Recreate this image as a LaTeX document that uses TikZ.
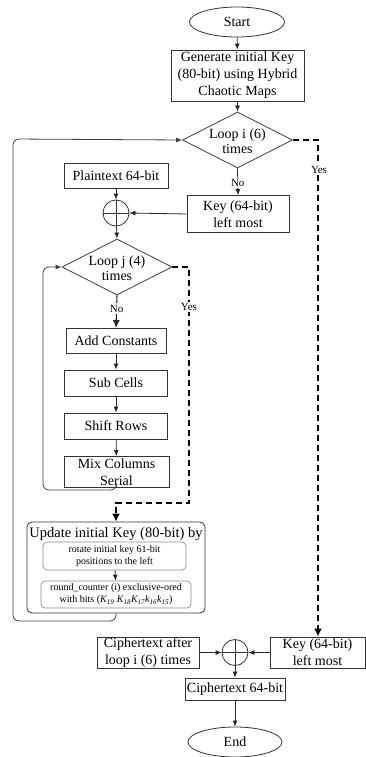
\documentclass[tikz,border=0pt]{standalone}
\usepackage{fontspec}
\setmainfont{Liberation Serif}
\usetikzlibrary{shapes.geometric,arrows.meta}
\begin{document}
\begin{tikzpicture}[x=1pt,y=-1pt,
  box/.style={draw=black!80, line width=0.8pt, inner sep=0pt, align=center, font=\fontsize{14}{17}\selectfont},
  term/.style={ellipse, draw=black!80, line width=0.8pt, inner sep=0pt, minimum width=95pt, minimum height=30pt, font=\fontsize{14}{17}\selectfont},
  dia/.style={diamond, draw=black!75, line width=0.8pt, inner sep=0pt, minimum width=110pt, minimum height=56pt},
  diatext/.style={align=center, font=\fontsize{14}{15}\selectfont, inner sep=0pt},
  sub/.style={draw=black!45, line width=0.7pt, rounded corners=4pt, inner sep=0pt, align=center, font=\fontsize{10}{12}\selectfont},
  xor/.style={circle, draw=black!80, line width=0.8pt, minimum size=26pt, inner sep=0pt,
    path picture={\draw[line width=0.8pt] (path picture bounding box.north) -- (path picture bounding box.south)
      (path picture bounding box.west) -- (path picture bounding box.east);}},
  arr/.style={-{Latex[length=6pt,width=5pt]}, line width=0.8pt, draw=black!85},
  loopline/.style={-{Latex[length=6pt,width=5pt]}, line width=0.8pt, draw=black!75, rounded corners=6pt},
  yesarr/.style={-{Latex[length=8pt,width=8pt]}, line width=1.7pt, dash pattern=on 6pt off 4pt},
  lbl/.style={font=\fontsize{11}{13}\selectfont, fill=white, inner sep=1.5pt}
]
\useasboundingbox (0,0) rectangle (366,757);

% top part
\node[term] (start) at (237,22) {Start};
\node[box, minimum width=133pt, minimum height=51pt] (gen) at (237.5,75.5) {Generate initial Key\\(80-bit) using Hybrid\\Chaotic Maps};
\node[dia] (di) at (237.5,140) {};
\node[diatext] (dit) at (237.5,141) {Loop i (6)\\times};

\node[box, minimum width=104pt, minimum height=25pt] (plain) at (116,176) {Plaintext 64-bit};
\node[xor] (x1) at (116,213) {};
\node[box, minimum width=102pt, minimum height=37pt] (key1) at (238,214) {Key (64-bit)\\left most};

\node[dia] (dj) at (117,267) {};
\node[diatext] (djt) at (117,268) {Loop j (4)\\times};

\node[box, minimum width=100pt, minimum height=25pt] (add) at (116,341) {Add Constants};
\node[box, minimum width=103pt, minimum height=26pt] (subc) at (116,383) {Sub Cells};
\node[box, minimum width=103pt, minimum height=26pt] (shift) at (116,426) {Shift Rows};
\node[box, minimum width=105pt, minimum height=31pt] (mix) at (116.5,472) {Mix Columns\\Serial};

% update box
\node[draw=black!80, line width=0.8pt, rounded corners=5pt, minimum width=178pt, minimum height=91pt, inner sep=0pt] (upd) at (116,567.5) {};
\node[inner sep=0pt, font=\fontsize{14.5}{17}\selectfont] (updt) at (116,534) {Update initial Key (80-bit) by};
\node[sub, minimum width=143pt, minimum height=28pt] (rot) at (114.5,556) {rotate initial key 61-bit\\positions to the left};
\node[sub, minimum width=150pt, minimum height=27pt] (rc) at (116,594.5) {round\_counter (i) exclusive-ored\\with bits (\textit{K\textsubscript{19} K\textsubscript{18}K\textsubscript{17}k\textsubscript{16}k\textsubscript{15}})};

% bottom part
\node[box, minimum width=102pt, minimum height=31pt] (caft) at (148,652.5) {Ciphertext after\\loop i (6) times};
\node[xor] (x2) at (235,652.5) {};
\node[box, minimum width=95pt, minimum height=31pt] (key2) at (317.5,652.5) {Key (64-bit)\\left most};
\node[box, minimum width=100pt, minimum height=22pt] (c64) at (235,689) {Ciphertext 64-bit};
\node[term, minimum width=94pt] (end) at (235,742) {End};

% connectors
\draw[arr] (start) -- (gen);
\draw[arr] (gen) -- (di);
\draw[arr] (di.south) -- node[lbl, pos=0.55] {No} (key1.north);
\draw[arr] (plain) -- (x1);
\draw[arr] (key1.west) -- (x1.east);
\draw[arr] (x1) -- (dj.north);
\draw[arr, line width=1.1pt, -{Latex[length=8pt,width=7pt]}] (dj.south) -- node[lbl, pos=0.4] {No} (add.north);
\draw[arr] (add) -- (subc);
\draw[arr] (subc) -- (shift);
\draw[arr] (shift) -- (mix);
\draw[arr] (rot) -- (rc);

% inner loop
\draw[loopline] (mix.south) -- (116.5,490) -- (43,490) -- (43,267) -- (dj.west);
% outer loop
\draw[loopline] (upd.south) -- (116,621) -- (13,621) -- (13,139) -- (di.west);

% yes branches
\coordinate (yj) at (189,267);
\coordinate (yj2) at (189,503);
\draw[yesarr] (dj.east) -- (yj) -- (yj2) -- (116,503) -- (upd.north);
\node[lbl] (yesj) at (189,307) {Yes};

\coordinate (yi) at (318,140);
\draw[yesarr] (di.east) -- (yi) -- (key2.north -| yi);
\node[lbl] (yesi) at (319,170) {Yes};

\draw[arr] (caft.east) -- (x2.west);
\draw[arr] (key2.west) -- (x2.east);
\draw[arr] (x2) -- (c64);
\draw[arr] (c64) -- (end);
\end{tikzpicture}
\end{document}
